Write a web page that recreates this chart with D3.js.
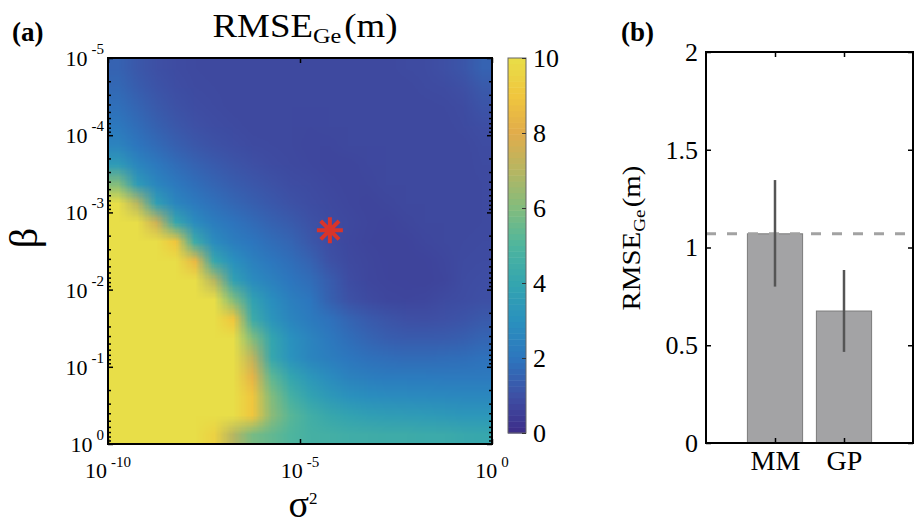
<!DOCTYPE html>
<html>
<head>
<meta charset="utf-8">
<script src="https://cdn.jsdelivr.net/npm/d3@7"></script>
<style>
	body { margin: 0; background: #fff; }
	svg { display: block; }
</style>
</head>
<body>
<div id="chart"></div>
<script>
// RMSE grid: rows = beta 1e-5 -> 1e0 (quarter decades),
// cols = sigma^2 1e-10 -> 1e0 (half decades). 10 means "yellow / clipped"
const rmseGrid = [
	[1.5, 1.2, 1.0, 0.88, 0.82, 0.8, 0.8, 0.8, 0.8, 0.8, 0.8, 0.8, 0.8, 0.8, 0.8, 0.85, 0.9, 1.0, 1.15, 1.5],
	[1.65, 1.35, 1.1, 0.95, 0.86, 0.82, 0.8, 0.8, 0.8, 0.8, 0.8, 0.8, 0.8, 0.8, 0.8, 0.8, 0.85, 0.9, 1.0, 1.25],
	[1.85, 1.55, 1.25, 1.05, 0.92, 0.85, 0.8, 0.8, 0.8, 0.8, 0.8, 0.8, 0.8, 0.8, 0.8, 0.8, 0.8, 0.82, 0.9, 1.1],
	[2.1, 1.75, 1.45, 1.2, 1.02, 0.92, 0.85, 0.8, 0.8, 0.8, 0.78, 0.8, 0.8, 0.8, 0.8, 0.8, 0.8, 0.8, 0.85, 0.95],
	[2.5, 2.0, 1.7, 1.42, 1.2, 1.05, 0.95, 0.87, 0.82, 0.8, 0.75, 0.75, 0.8, 0.8, 0.8, 0.8, 0.8, 0.8, 0.8, 0.9],
	[3.5, 2.6, 2.1, 1.75, 1.5, 1.3, 1.12, 1.0, 0.9, 0.82, 0.78, 0.72, 0.72, 0.78, 0.8, 0.8, 0.8, 0.8, 0.8, 0.85],
	[6.0, 3.5, 2.6, 2.1, 1.8, 1.55, 1.35, 1.18, 1.05, 0.92, 0.85, 0.78, 0.72, 0.74, 0.8, 0.8, 0.8, 0.8, 0.8, 0.82],
	[10, 7.0, 3.7, 2.6, 2.15, 1.85, 1.6, 1.4, 1.22, 1.05, 0.92, 0.82, 0.75, 0.7, 0.74, 0.8, 0.8, 0.8, 0.8, 0.82],
	[10, 10, 7.5, 4.1, 2.8, 2.25, 1.95, 1.7, 1.48, 1.28, 1.05, 0.9, 0.8, 0.72, 0.68, 0.74, 0.8, 0.8, 0.8, 0.82],
	[10, 10, 10, 9.0, 4.4, 2.8, 2.3, 2.0, 1.75, 1.55, 1.2, 0.92, 0.78, 0.7, 0.66, 0.68, 0.76, 0.8, 0.82, 0.85],
	[10, 10, 10, 10, 8.5, 4.1, 3.0, 2.4, 2.05, 1.8, 1.5, 1.05, 0.82, 0.74, 0.68, 0.66, 0.68, 0.76, 0.85, 0.9],
	[10, 10, 10, 10, 10, 7.0, 3.8, 2.8, 2.4, 2.0, 1.75, 1.35, 0.92, 0.76, 0.7, 0.68, 0.66, 0.72, 0.88, 0.95],
	[10, 10, 10, 10, 10, 10, 6.0, 3.8, 2.9, 2.35, 2.0, 1.45, 1.05, 0.85, 0.76, 0.72, 0.76, 0.86, 0.92, 1.0],
	[10, 10, 10, 10, 10, 10, 9.0, 4.4, 3.2, 2.55, 2.2, 1.9, 1.55, 1.3, 1.12, 1.0, 0.98, 1.02, 1.1, 1.25],
	[10, 10, 10, 10, 10, 10, 10, 6.0, 4.0, 3.0, 2.5, 2.1, 1.8, 1.55, 1.38, 1.3, 1.3, 1.32, 1.4, 1.55],
	[10, 10, 10, 10, 10, 10, 10, 7.2, 4.1, 3.1, 2.55, 2.3, 2.05, 1.88, 1.78, 1.72, 1.72, 1.75, 1.8, 1.9],
	[10, 10, 10, 10, 10, 10, 10, 8.3, 5.3, 4.0, 3.3, 2.8, 2.45, 2.28, 2.2, 2.18, 2.18, 2.15, 2.15, 2.15],
	[10, 10, 10, 10, 10, 10, 10, 9.0, 6.0, 4.7, 3.9, 3.4, 3.05, 2.9, 2.8, 2.78, 2.75, 2.7, 2.65, 2.65],
	[10, 10, 10, 10, 10, 10, 10, 9.0, 6.2, 5.2, 4.55, 4.15, 3.9, 3.7, 3.6, 3.55, 3.5, 3.4, 3.3, 3.3],
	[10, 10, 10, 10, 10, 9.5, 7.0, 5.8, 5.4, 5.0, 4.7, 4.6, 4.5, 4.45, 4.4, 4.4, 4.3, 4.3, 4.2, 4.1]
]
const sigmaDomain = [1e-10, 1e0]
const betaDomain = [1e-5, 1e0]
const sigmaTicks = [1e-10, 1e-5, 1e0]
const betaTicks = [1e-5, 1e-4, 1e-3, 1e-2, 1e-1, 1e0]
const colorbarTicks = [0, 2, 4, 6, 8, 10]
const bestPoint = { sigma: 6e-5, beta: 1.7e-3 }

// panel (b)
const methods = ["MM", "GP"]
const methodRmse = [1.07, 0.675]
const methodLow = [0.80, 0.466]
const methodHigh = [1.345, 0.885]
const referenceRmse = 1.07
const rmseTicks = [0, 0.5, 1, 1.5, 2]

const SERIF = '"Liberation Serif", "Times New Roman", serif'
// muted parula, as it shows in the colorbar
const PARULA = ["#3d2c88", "#3e50a5", "#2d76be", "#2a91be", "#34a5af", "#4eb59e",
	"#82bc7d", "#b6b662", "#e1ac4b", "#f0c63e", "#e8de48"]

const HM = { LEFT: 108, RIGHT: 492, TOP: 58, BOTTOM: 444 }
const BP = { LEFT: 706, RIGHT: 913, TOP: 52, BOTTOM: 443 }

const svg = d3.select("#chart").append("svg")
	.attr("width", 917)
	.attr("height", 524)
	.attr("font-family", SERIF)

const x = d3.scaleLog().domain(sigmaDomain).range([HM.LEFT, HM.RIGHT])
const y = d3.scaleLog().domain(betaDomain).range([HM.TOP, HM.BOTTOM])
const color = d3.scaleLinear().domain(d3.range(11)).range(PARULA).clamp(true)

// heatmap -> small canvas, stretched over the axes
const nRows = rmseGrid.length, nCols = rmseGrid[0].length
const canvas = document.createElement("canvas")
canvas.width = nCols
canvas.height = nRows
const ctx = canvas.getContext("2d")
const img = ctx.createImageData(nCols, nRows)
rmseGrid.forEach((row, i) => row.forEach((v, j) => {
	const c = d3.rgb(color(v)), k = 4 * (i * nCols + j)
	img.data[k] = c.r; img.data[k + 1] = c.g; img.data[k + 2] = c.b; img.data[k + 3] = 255
}))
ctx.putImageData(img, 0, 0)

svg.append("image")
	.attr("x", x(sigmaDomain[0]))
	.attr("y", y(betaDomain[0]))
	.attr("width", x(sigmaDomain[1]) - x(sigmaDomain[0]))
	.attr("height", y(betaDomain[1]) - y(betaDomain[0]))
	.attr("preserveAspectRatio", "none")
	.attr("href", canvas.toDataURL())

// tick marks (inward, mirrored on all sides)
const minorBeta = y.ticks().filter(d => !betaTicks.some(t => Math.abs(d - t) / t < 1e-9))
function ticks(axis, tx, ty) {
	svg.append("g")
		.attr("transform", `translate(${tx}, ${ty})`)
		.call(axis.tickFormat("").tickSizeOuter(0))
		.call(g => g.select(".domain").remove())
		.selectAll("line").attr("stroke-width", 1.5)
}
ticks(d3.axisLeft(y).tickValues(betaTicks).tickSize(-5), HM.LEFT, 0)
ticks(d3.axisRight(y).tickValues(betaTicks).tickSize(-5), HM.RIGHT, 0)
ticks(d3.axisLeft(y).tickValues(minorBeta).tickSize(-3), HM.LEFT, 0)
ticks(d3.axisRight(y).tickValues(minorBeta).tickSize(-3), HM.RIGHT, 0)
ticks(d3.axisBottom(x).tickValues(sigmaTicks).tickSize(-5), 0, HM.BOTTOM)
ticks(d3.axisTop(x).tickValues(sigmaTicks).tickSize(-5), 0, HM.TOP)

svg.append("rect")
	.attr("x", HM.LEFT).attr("y", HM.TOP)
	.attr("width", HM.RIGHT - HM.LEFT).attr("height", HM.BOTTOM - HM.TOP)
	.attr("fill", "none").attr("stroke", "#000").attr("stroke-width", 2)

// 10^k labels
function power(sel, dy) {
	sel.each(function(d) {
		const t = d3.select(this)
		t.append("tspan").text("10")
		t.append("tspan").attr("dx", 4).attr("dy", dy).attr("font-size", 15)
			.text(Math.round(Math.log10(d)))
	})
}
svg.append("g").selectAll("text")
	.data(betaTicks).enter().append("text")
	.attr("x", HM.LEFT - 4)
	.attr("y", d => y(d) + 8)
	.attr("font-size", 22)
	.attr("text-anchor", "end")
	.call(power, -12)
svg.append("g").selectAll("text")
	.data(sigmaTicks).enter().append("text")
	.attr("x", d => x(d))
	.attr("y", HM.BOTTOM + 34)
	.attr("font-size", 22)
	.attr("text-anchor", "middle")
	.call(power, -11)

// optimum marker
const star = d3.path()
d3.range(4).forEach(i => {
	const a = i * Math.PI / 4, r = 13
	star.moveTo(-r * Math.cos(a), -r * Math.sin(a))
	star.lineTo(r * Math.cos(a), r * Math.sin(a))
})
svg.append("path")
	.attr("d", star.toString())
	.attr("transform", `translate(${x(bestPoint.sigma)}, ${y(bestPoint.beta)})`)
	.attr("stroke", "#d8342a")
	.attr("stroke-width", 4)

// axis labels + title
const sig = svg.append("text")
	.attr("x", (HM.LEFT + HM.RIGHT) / 2 + 3)
	.attr("y", 517)
	.attr("font-size", 38)
	.attr("text-anchor", "middle")
sig.append("tspan").text("σ")
sig.append("tspan").attr("font-size", 17).attr("dy", -13).text("2")

svg.append("text")
	.attr("transform", `translate(37, ${(HM.TOP + HM.BOTTOM) / 2 - 13}) rotate(-90)`)
	.attr("font-size", 40)
	.attr("text-anchor", "middle")
	.text("β")

function rmseLabel(g, size) {
	g.append("tspan").text("RMSE")
	g.append("tspan").attr("font-size", size * 0.66).attr("dy", size * 0.18).text("Ge")
	g.append("tspan").attr("dx", size * 0.08).attr("dy", -size * 0.18).text("(m)")
}
function stretch(sel, cx, width) {
	const k = width / sel.node().getBBox().width
	sel.attr("transform", `translate(${cx}, 0) scale(${k}, 1) translate(${-cx}, 0)`)
}
const title = svg.append("text")
	.attr("x", 305).attr("y", 37)
	.attr("font-size", 33)
	.attr("text-anchor", "middle")
	.call(rmseLabel, 33)
stretch(title, 305, 185)

svg.append("text").attr("x", 12).attr("y", 41)
	.attr("font-size", 27).attr("font-weight", "bold").text("(a)")
svg.append("text").attr("x", 621).attr("y", 41)
	.attr("font-size", 27).attr("font-weight", "bold").text("(b)")

// colorbar
const cb = d3.scaleLinear().domain([0, 10]).range([433, 58])
const steps = d3.range(64).map(i => i * 10 / 64)
svg.append("g").selectAll("rect")
	.data(steps).enter().append("rect")
	.attr("x", 508).attr("width", 18)
	.attr("y", d => cb(d + 10 / 64))
	.attr("height", cb(0) - cb(10 / 64) + 0.5)
	.attr("fill", d => color(d + 5 / 64))
svg.append("rect")
	.attr("x", 508).attr("y", cb(10)).attr("width", 18).attr("height", cb(0) - cb(10))
	.attr("fill", "none").attr("stroke", "#666").attr("stroke-width", 1)
svg.append("g")
	.attr("transform", "translate(526, 0)")
	.call(d3.axisRight(cb).tickValues(colorbarTicks).tickSize(-4).tickPadding(7).tickSizeOuter(0))
	.call(g => g.select(".domain").remove())
	.attr("font-family", SERIF)
	.attr("font-size", 26)
	.call(g => g.selectAll("line").attr("stroke", "#333"))

// panel (b): bars with error lines
const xb = d3.scaleLinear().domain([0, 3]).range([BP.LEFT, BP.RIGHT])
const yb = d3.scaleLinear().domain([0, 2]).range([BP.BOTTOM, BP.TOP])
const bars = methods.map((m, i) => ({ m, pos: i + 1, v: methodRmse[i], lo: methodLow[i], hi: methodHigh[i] }))

svg.append("g").selectAll("rect")
	.data(bars).enter().append("rect")
	.attr("x", d => xb(d.pos - 0.4))
	.attr("width", xb(0.8) - xb(0))
	.attr("y", d => yb(d.v))
	.attr("height", d => yb(0) - yb(d.v))
	.attr("fill", "#a3a3a5")
	.attr("stroke", "#7b7b7b")
	.attr("stroke-width", 1)

svg.append("line")
	.attr("x1", xb(0)).attr("x2", xb(3))
	.attr("y1", yb(referenceRmse)).attr("y2", yb(referenceRmse))
	.attr("stroke", "#a2a2a2").attr("stroke-width", 3)
	.attr("stroke-dasharray", "10,11")

svg.append("g").selectAll("line")
	.data(bars).enter().append("line")
	.attr("x1", d => xb(d.pos)).attr("x2", d => xb(d.pos))
	.attr("y1", d => yb(d.lo)).attr("y2", d => yb(d.hi))
	.attr("stroke", "#555").attr("stroke-width", 2.5)

svg.append("g")
	.attr("transform", `translate(${BP.LEFT}, 0)`)
	.call(d3.axisLeft(yb).tickValues(rmseTicks).tickFormat(d => String(d)).tickSize(-5).tickPadding(8).tickSizeOuter(0))
	.call(g => g.select(".domain").remove())
	.attr("font-family", SERIF)
	.attr("font-size", 26)
	.call(g => g.selectAll("line").attr("stroke-width", 1.5))
svg.append("g")
	.attr("transform", `translate(0, ${BP.BOTTOM})`)
	.call(d3.axisBottom(xb).tickValues([1, 2]).tickFormat((d, i) => methods[i]).tickSize(-5).tickPadding(7).tickSizeOuter(0))
	.call(g => g.select(".domain").remove())
	.attr("font-family", SERIF)
	.attr("font-size", 28)
	.call(g => g.selectAll("line").attr("stroke-width", 1.5))
ticks(d3.axisRight(yb).tickValues(rmseTicks).tickSize(-5), BP.RIGHT, 0)
ticks(d3.axisTop(xb).tickValues([1, 2]).tickSize(-5), 0, BP.TOP)

svg.append("rect")
	.attr("x", BP.LEFT).attr("y", BP.TOP)
	.attr("width", BP.RIGHT - BP.LEFT).attr("height", BP.BOTTOM - BP.TOP)
	.attr("fill", "none").attr("stroke", "#000").attr("stroke-width", 2)

const yl = svg.append("text")
	.attr("x", 0).attr("y", 0)
	.attr("font-size", 25)
	.attr("text-anchor", "middle")
	.call(rmseLabel, 25)
const ylWidth = yl.node().getBBox().width
yl.attr("transform", `translate(640, 238) rotate(-90) scale(${145 / ylWidth}, 1)`)
</script>
</body>
</html>
